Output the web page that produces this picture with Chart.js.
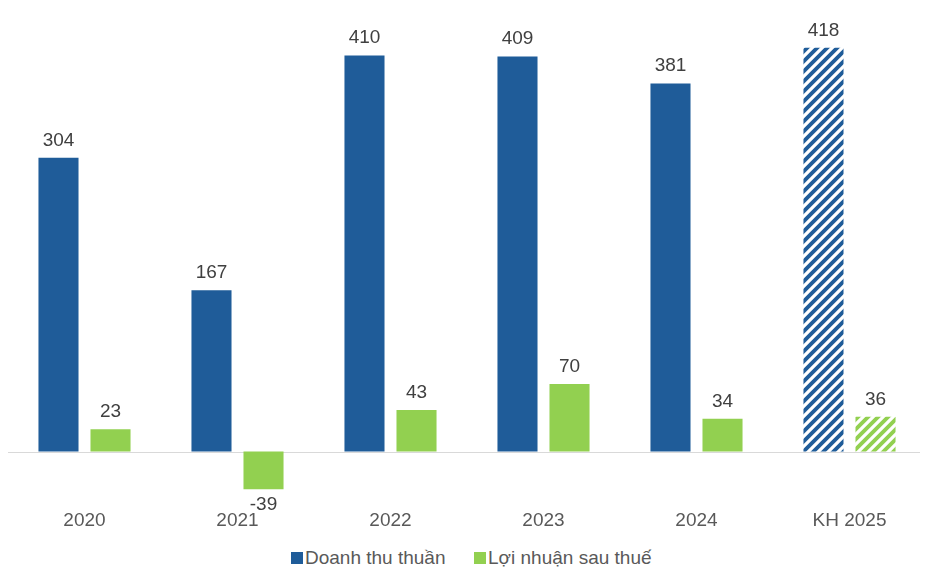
<!DOCTYPE html>
<html>
<head>
<meta charset="utf-8">
<script src="https://cdn.jsdelivr.net/npm/chart.js@4/dist/chart.umd.min.js"></script>
<style>
  body { margin: 0; background: #fff; }
  #wrap { position: relative; width: 936px; height: 579px; }
  #legend {
    position: absolute; left: 0; top: 547px; width: 936px; height: 26px;
    font-family: "Liberation Sans", Arial, sans-serif; font-size: 19px; color: #595959;
  }
  #legend span { position: absolute; top: 0; white-space: nowrap; }
  #legend i { display: inline-block; width: 12px; height: 12px; margin-right: 2px; vertical-align: 0; }
</style>
</head>
<body>
<div id="wrap">
  <canvas id="myChart" width="936" height="540"></canvas>
  <div id="legend">
    <span style="left:291px"><i style="background:#1F5C99"></i>Doanh thu thuần</span>
    <span style="left:474px"><i style="background:#92D050"></i>Lợi nhuận sau thuế</span>
  </div>
</div>
<script>
const years = ['2020', '2021', '2022', '2023', '2024', 'KH 2025'];
const revenue = [304, 167, 410, 409, 381, 418];
const profit = [23, -39, 43, 70, 34, 36];

const blue = '#1F5C99';
const green = '#92D050';
const labelFont = '19px "Liberation Sans", Arial, sans-serif';

// diagonal stripes for the plan year
let stripes = (color) => {
    const c = document.createElement('canvas');
    c.width = 10; c.height = 10;
    const g = c.getContext('2d');
    g.fillStyle = color;
    g.fillRect(0, 0, 10, 10);
    g.strokeStyle = '#fff';
    g.lineWidth = 3.2;
    g.beginPath();
    g.moveTo(-5, 5); g.lineTo(5, -5);
    g.moveTo(0, 10); g.lineTo(10, 0);
    g.moveTo(5, 15); g.lineTo(15, 5);
    g.stroke();
    return g.createPattern(c, 'repeat');
};

let colorsFor = (color) => years.map((y, i) => i === years.length - 1 ? stripes(color) : color);

const valueLabels = {
    id: 'valueLabels',
    afterDatasetsDraw(chart) {
        const ctx = chart.ctx;
        ctx.save();
        ctx.font = labelFont;
        ctx.fillStyle = '#404040';
        ctx.textAlign = 'center';
        ctx.textBaseline = 'alphabetic';
        chart.data.datasets.forEach((ds, di) => {
            chart.getDatasetMeta(di).data.forEach((bar, i) => {
                const v = ds.data[i];
                const y = v < 0 ? bar.y + 21 : bar.y - 12;
                ctx.fillText(String(v), bar.x, y);
            });
        });
        ctx.restore();
    }
};

const zeroLine = {
    id: 'zeroLine',
    beforeDatasetsDraw(chart) {
        const { ctx, chartArea } = chart;
        const y0 = Math.round(chart.scales.y.getPixelForValue(0)) + 0.5;
        ctx.save();
        ctx.strokeStyle = '#D9D9D9';
        ctx.lineWidth = 1;
        ctx.beginPath();
        ctx.moveTo(chartArea.left, y0);
        ctx.lineTo(chartArea.right - 6, y0);
        ctx.stroke();
        ctx.restore();
    }
};

new Chart(document.getElementById('myChart'), {
    type: 'bar',
    data: {
        labels: years,
        datasets: [
            { label: 'Doanh thu thuần', data: revenue, backgroundColor: colorsFor(blue) },
            { label: 'Lợi nhuận sau thuế', data: profit, backgroundColor: colorsFor(green) }
        ]
    },
    options: {
        responsive: false,
        animation: false,
        categoryPercentage: 0.68,
        barPercentage: 0.77,
        layout: { padding: { left: 8, right: 10, top: 10, bottom: 4.5 } },
        plugins: { legend: { display: false }, tooltip: { enabled: false } },
        scales: {
            x: {
                grid: { display: false, tickLength: 0 },
                border: { display: false },
                ticks: { color: '#595959', font: { family: '"Liberation Sans", Arial, sans-serif', size: 19 }, padding: 3.5 }
            },
            y: { display: false, min: -56, max: 457 }
        }
    },
    plugins: [zeroLine, valueLabels]
});
</script>
</body>
</html>
